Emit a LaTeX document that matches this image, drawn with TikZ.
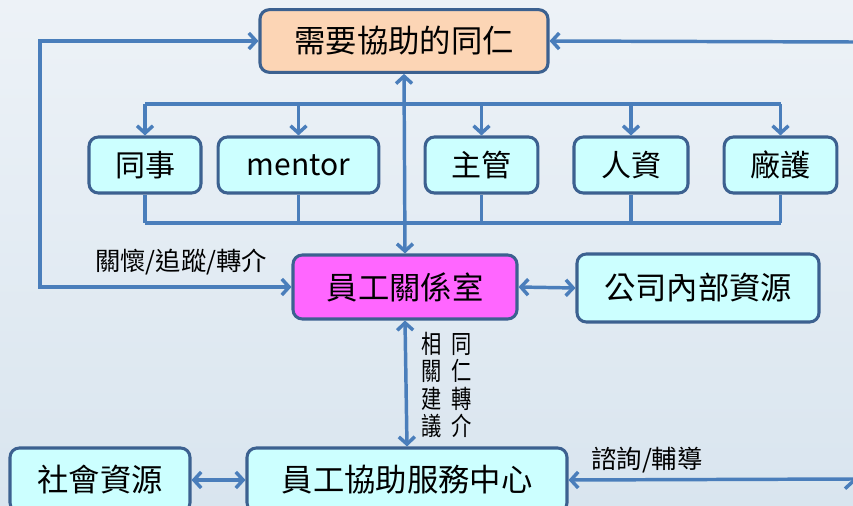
\documentclass[tikz,border=0pt]{standalone}
\usepackage{fontspec}
\setmainfont{Noto Sans CJK TC}
\usetikzlibrary{arrows.meta}

\definecolor{boxline}{HTML}{3C6190}
\definecolor{arrowblue}{HTML}{4A7EBB}
\definecolor{peach}{HTML}{FCD5B5}
\definecolor{pinkbox}{HTML}{FF66FF}
\definecolor{cyanbox}{HTML}{CCFFFF}
\definecolor{bgtop}{HTML}{EDF2F7}
\definecolor{bgbot}{HTML}{D9E5EF}

\begin{document}
\begin{tikzpicture}[x=0.75pt, y=-0.75pt]
        \tikzstyle{eap_box}   = [shape = rectangle, rounded corners = 7pt, draw = boxline, line width = 2.3pt, fill = cyanbox, inner sep = 0pt, font = \fontsize{23.5}{25}\selectfont]
        \tikzstyle{eap_item}  = [eap_box, minimum height = 42pt, font = \fontsize{22.5}{24}\selectfont]
        \tikzstyle{eap_label} = [inner sep = 0pt, font = \fontsize{19}{20}\selectfont]
        \tikzstyle{eap_arrow} = [draw = arrowblue, line width = 2.6pt, arrows = {-Straight Barb[length = 5.5pt, width = 12pt]}]
        \tikzstyle{eap_line}  = [draw = arrowblue, line width = 2.6pt]

        \clip (0,0) rectangle (853,506);
        \shade[top color = bgtop, bottom color = bgbot] (0,0) rectangle (853,506);

        \node[eap_box, fill = peach, minimum width = 216pt, minimum height = 47pt] at (404, 41) (n_need) {需要協助的同仁};

        \node[eap_item, minimum width = 84pt]    at (145,   165) (n_peer)  {同事};
        \node[eap_item, minimum width = 120.5pt] at (298.5, 165) (n_mentor) {mentor};
        \node[eap_item, minimum width = 84.5pt]  at (481.5, 165) (n_boss)  {主管};
        \node[eap_item, minimum width = 85.5pt]  at (631,   165) (n_hr)    {人資};
        \node[eap_item, minimum width = 84.5pt]  at (780.5, 165) (n_nurse) {廠護};

        \node[eap_box, fill = pinkbox, minimum width = 168pt, minimum height = 48pt] at (405, 287) (n_erc) {員工關係室};
        \node[eap_box, minimum width = 181.5pt, minimum height = 51pt] at (698, 288) (n_inner) {公司內部資源};

        \node[eap_box, minimum width = 135pt, minimum height = 48pt] at (100, 480) (n_social) {社會資源};
        \node[eap_box, minimum width = 240pt, minimum height = 48pt] at (407, 480) (n_eap)    {員工協助服務中心};

        \node[eap_label] at (181, 262) (l_care)  {關懷/追蹤/轉介};
        \node[eap_label] at (647, 460) (l_guide) {諮詢/輔導};
        \node[inner sep = 0pt, align = center, font = \fontsize{19}{18.75}\selectfont] at (447, 385) (l_refer)
          {\scalebox{0.8}[1]{\shortstack{相\hspace{9pt}同\\關\hspace{9pt}仁\\建\hspace{9pt}轉\\議\hspace{9pt}介}}};

        \coordinate (bus_top) at (0, 104);
        \coordinate (bus_bot) at (0, 223);
        \coordinate (loop_l)  at (40, 165);
        \coordinate (edge_rt) at (853, 42);
        \coordinate (edge_rb) at (853, 479);

        \draw[eap_line]
          (n_peer |- bus_top) -- (n_nurse |- bus_top)
          (n_peer |- bus_bot) -- (n_nurse |- bus_bot)
          (n_peer.south)   -- (n_peer |- bus_bot)
          (n_mentor.south) -- (n_mentor |- bus_bot)
          (n_boss.south)   -- (n_boss |- bus_bot)
          (n_hr.south)     -- (n_hr |- bus_bot)
          (n_nurse.south)  -- (n_nurse |- bus_bot)
        ;

        \draw[eap_arrow]
          (n_peer |- bus_top)   edge (n_peer.north)
          (n_mentor |- bus_top) edge (n_mentor.north)
          (n_boss |- bus_top)   edge (n_boss.north)
          (n_hr |- bus_top)     edge (n_hr.north)
          (n_nurse |- bus_top)  edge (n_nurse.north)
          (edge_rt) edge (n_need.east)
          (edge_rb) edge (n_eap.east)
        ;

        \draw[eap_arrow, arrows = {Straight Barb[length = 5.5pt, width = 12pt]-Straight Barb[length = 5.5pt, width = 12pt]}]
          (n_need.south) edge (n_erc.north)
          (n_erc.south)  edge (n_eap.north)
          (n_erc.east)   edge (n_inner.west)
          (n_social.east) edge (n_eap.west)
          (n_need.west) -| (loop_l) |- (n_erc.west)
        ;
      \end{tikzpicture}
\end{document}
